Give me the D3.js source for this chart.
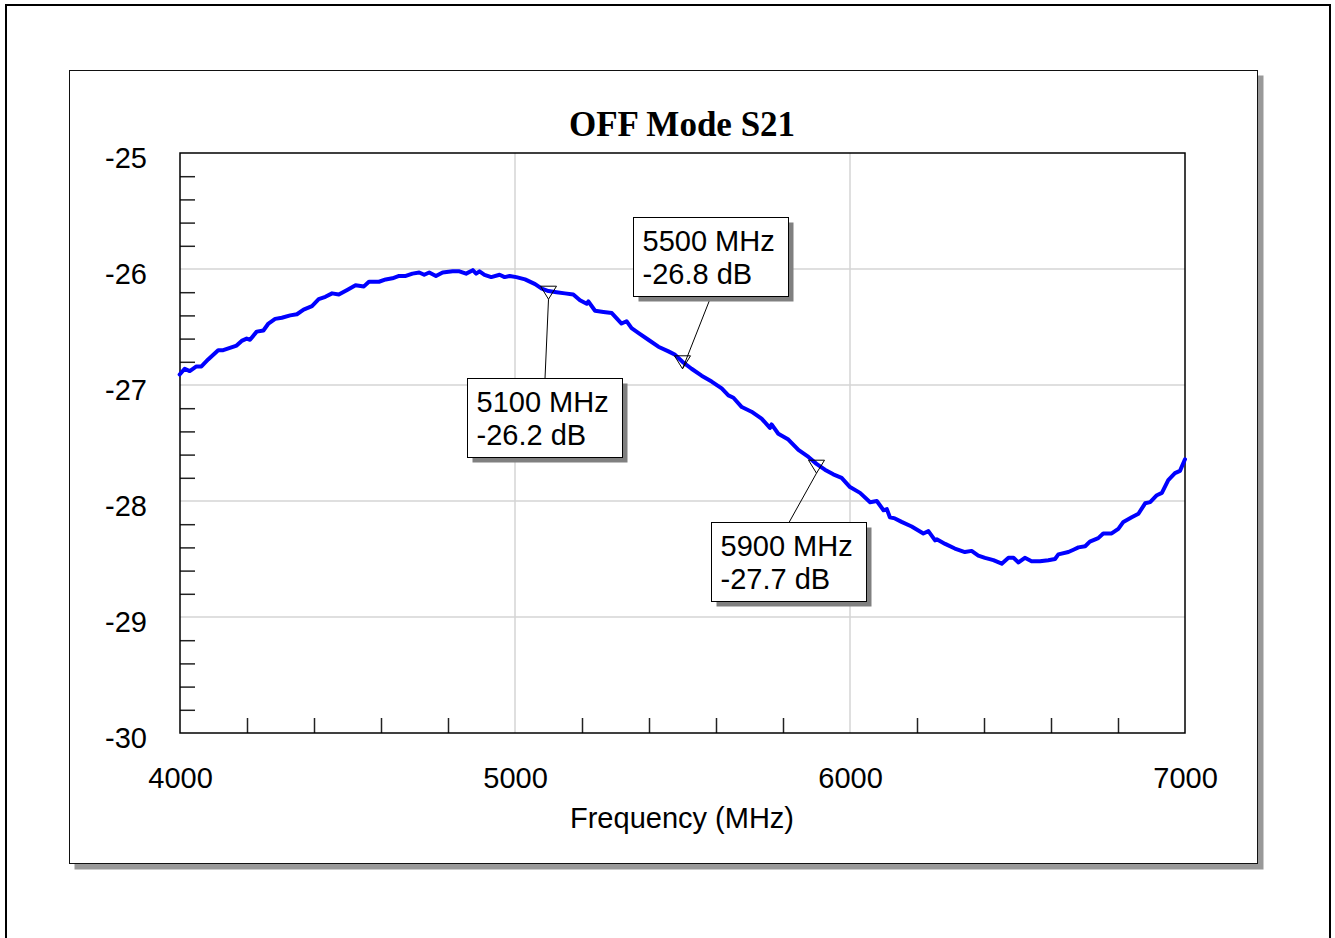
<!DOCTYPE html>
<html>
<head>
<meta charset="utf-8">
<script src="https://cdn.jsdelivr.net/npm/d3@7"></script>
<style>
  html, body { margin: 0; padding: 0; background: #fff; }
  svg { display: block; }
</style>
</head>
<body>
<svg id="chart" width="1335" height="938"></svg>
<script>
// Measured S21 trace (MHz, dB)
const freqs = [
  3999, 4014, 4029, 4049, 4064, 4084, 4114, 4129, 4149, 4169, 4184, 4199, 4209, 4229, 4249,
  4264, 4284, 4304, 4329, 4349, 4369, 4394, 4414, 4434, 4454, 4474, 4499, 4524, 4549, 4564,
  4594, 4614, 4634, 4654, 4674, 4694, 4714, 4729, 4744, 4764, 4784, 4814, 4834, 4854, 4874,
  4884, 4894, 4909, 4929, 4954, 4969, 4984, 5004, 5030, 5060, 5080, 5100, 5124, 5149, 5174,
  5194, 5214, 5219, 5239, 5264, 5289, 5318, 5333, 5348, 5368, 5398, 5428, 5458, 5478, 5500,
  5527, 5557, 5587, 5617, 5637, 5652, 5677, 5706, 5736, 5761, 5766, 5786, 5816, 5846, 5876,
  5900, 5925, 5950, 5975, 6000, 6030, 6060, 6080, 6100, 6110, 6119, 6134, 6154, 6184, 6219,
  6234, 6254, 6259, 6284, 6313, 6343, 6363, 6383, 6403, 6428, 6453, 6473, 6488, 6503, 6522,
  6542, 6567, 6592, 6612, 6622, 6652, 6667, 6682, 6702, 6716, 6741, 6756, 6781, 6801, 6816,
  6841, 6861, 6881, 6896, 6916, 6931, 6950, 6970, 6985, 7000
];
const s21 = [
  -26.91, -26.86, -26.88, -26.84, -26.84, -26.78, -26.70, -26.70, -26.68, -26.66, -26.62, -26.60, -26.61, -26.54, -26.53,
  -26.47, -26.43, -26.42, -26.40, -26.39, -26.35, -26.32, -26.26, -26.24, -26.21, -26.22, -26.18, -26.14, -26.15, -26.11,
  -26.11, -26.09, -26.08, -26.06, -26.06, -26.04, -26.03, -26.05, -26.03, -26.06, -26.03, -26.02, -26.02, -26.04, -26.01,
  -26.04, -26.02, -26.05, -26.07, -26.05, -26.07, -26.06, -26.07, -26.09, -26.13, -26.17, -26.19, -26.20, -26.21, -26.22,
  -26.27, -26.30, -26.28, -26.36, -26.37, -26.38, -26.47, -26.45, -26.51, -26.55, -26.61, -26.67, -26.71, -26.74, -26.80,
  -26.86, -26.92, -26.97, -27.03, -27.09, -27.11, -27.19, -27.23, -27.29, -27.37, -27.34, -27.42, -27.47, -27.56, -27.62,
  -27.68, -27.73, -27.77, -27.80, -27.88, -27.93, -28.01, -28.00, -28.08, -28.07, -28.14, -28.15, -28.18, -28.22, -28.28,
  -28.26, -28.34, -28.33, -28.37, -28.41, -28.44, -28.43, -28.47, -28.49, -28.51, -28.54, -28.49, -28.49, -28.53, -28.49,
  -28.52, -28.52, -28.51, -28.50, -28.46, -28.44, -28.42, -28.40, -28.39, -28.35, -28.32, -28.28, -28.28, -28.24, -28.18,
  -28.14, -28.11, -28.02, -28.01, -27.95, -27.93, -27.82, -27.76, -27.74, -27.64
];

// Markers
const markerFreqs = [5100, 5500, 5900];
const markerVals = [-26.2, -26.8, -27.7];

// Axis ticks
const xTickValues = [4000, 5000, 6000, 7000];
const yTickValues = [-30, -29, -28, -27, -26, -25];
const titleText = "OFF Mode S21";
const xAxisTitle = "Frequency (MHz)";

const svg = d3.select("#chart");
const SANS = "'Liberation Sans', Arial, sans-serif";
const SERIF = "'Liberation Serif', 'Times New Roman', serif";

// Outer page frame
svg.append("rect").attr("x", 6).attr("y", 5).attr("width", 1324).attr("height", 960)
  .attr("fill", "none").attr("stroke", "#000").attr("stroke-width", 2);

// Chart panel with drop shadow
const panel = { x: 69.5, y: 70.5, w: 1188, h: 793 };
svg.append("rect").attr("x", panel.x + 5).attr("y", panel.y + 5)
  .attr("width", panel.w + 1).attr("height", panel.h + 1).attr("fill", "#999");
svg.append("rect").attr("x", panel.x).attr("y", panel.y)
  .attr("width", panel.w).attr("height", panel.h)
  .attr("fill", "#fff").attr("stroke", "#111").attr("stroke-width", 1);

// Plot area
const plot = { left: 180, top: 153, right: 1185, bottom: 733 };
const x = d3.scaleLinear().domain([4000, 7000]).range([plot.left, plot.right]);
const y = d3.scaleLinear().domain([-30, -25]).range([plot.bottom, plot.top]);

// Grid lines
const g = svg.append("g");
g.selectAll("line.gy").data(yTickValues.filter(v => v > -30 && v < -25)).join("line")
  .attr("x1", plot.left).attr("x2", plot.right)
  .attr("y1", d => y(d)).attr("y2", d => y(d))
  .attr("stroke", "#d4d4d4").attr("stroke-width", 1.5);
g.selectAll("line.gx").data(xTickValues.filter(v => v > 4000 && v < 7000)).join("line")
  .attr("y1", plot.top).attr("y2", plot.bottom)
  .attr("x1", d => x(d)).attr("x2", d => x(d))
  .attr("stroke", "#d4d4d4").attr("stroke-width", 1.5);

// Minor ticks (inside the plot)
const yMinor = d3.range(-29.8, -25.0, 0.2).map(v => +v.toFixed(1)).filter(v => Math.abs(v - Math.round(v)) > 1e-6);
const xMinor = d3.range(4200, 7000, 200).filter(v => v % 1000 !== 0);
const yAxisMinor = d3.axisLeft(y).tickValues(yMinor).tickSize(-15).tickFormat("");
const xAxisMinor = d3.axisBottom(x).tickValues(xMinor).tickSize(-15).tickFormat("");
const ya = svg.append("g").attr("transform", `translate(${plot.left},0)`).call(yAxisMinor);
const xa = svg.append("g").attr("transform", `translate(0,${plot.bottom})`).call(xAxisMinor);
[ya, xa].forEach(a => {
  a.select(".domain").remove();
  a.selectAll(".tick line").attr("stroke", "#222").attr("stroke-width", 1.5);
});

// Tick labels (plain hyphen minus sign)
const plain = d => String(d);
const yLab = d3.axisLeft(y).tickValues(yTickValues).tickSize(0).tickPadding(33).tickFormat(plain);
const xLab = d3.axisBottom(x).tickValues(xTickValues).tickSize(0).tickPadding(33).tickFormat(plain);
const yl = svg.append("g").attr("transform", `translate(${plot.left},0)`).call(yLab);
const xl = svg.append("g").attr("transform", `translate(0,${plot.bottom})`).call(xLab);
[yl, xl].forEach(a => {
  a.select(".domain").remove();
  a.selectAll("text").attr("font-family", SANS).attr("font-size", 29).attr("fill", "#000");
});
yl.selectAll("text").attr("dy", "0.5em");
xl.selectAll("text").attr("dy", "0.77em");

// Plot frame
svg.append("rect").attr("x", plot.left).attr("y", plot.top)
  .attr("width", plot.right - plot.left).attr("height", plot.bottom - plot.top)
  .attr("fill", "none").attr("stroke", "#000").attr("stroke-width", 1.5);

// Trace
const line = d3.line().x((d, i) => x(freqs[i])).y(d => y(d)).curve(d3.curveLinear);
svg.append("path").datum(s21).attr("d", line)
  .attr("fill", "none").attr("stroke", "#0000ff").attr("stroke-width", 4)
  .attr("stroke-linejoin", "round").attr("stroke-linecap", "round");

// Title and axis title
svg.append("text").attr("x", 682).attr("y", 136).attr("text-anchor", "middle")
  .attr("font-family", SERIF).attr("font-weight", "bold").attr("font-size", 35)
  .text(titleText);
svg.append("text").attr("x", 682).attr("y", 828).attr("text-anchor", "middle")
  .attr("font-family", SANS).attr("font-size", 29).text(xAxisTitle);

// Marker annotations: box offset relative to the marked point, leader attaches at top or bottom edge
const boxOffsets = [
  { dx: -82, dy: 86, edge: "top" },
  { dx: -49.5, dy: -145, edge: "bottom" },
  { dx: -105.5, dy: 56, edge: "top" }
];
const boxW = 155, boxH = 79;
const mg = svg.append("g");
markerFreqs.forEach((f, i) => {
  const px = x(f), py = y(markerVals[i]);
  const o = boxOffsets[i];
  const bx = Math.round(px + o.dx) + 0.5, by = Math.round(py + o.dy) + 0.5;
  const ax = bx + boxW / 2, ay = o.edge === "top" ? by : by + boxH;
  // leader
  mg.append("line").attr("x1", ax).attr("y1", ay).attr("x2", px).attr("y2", py + 7)
    .attr("stroke", "#000").attr("stroke-width", 1);
  // triangle marker
  mg.append("path")
    .attr("d", `M${px - 8},${py - 6} L${px + 8},${py - 6} L${px},${py + 7} Z`)
    .attr("fill", "none").attr("stroke", "#000").attr("stroke-width", 1);
  // label box with shadow
  mg.append("rect").attr("x", bx + 5).attr("y", by + 5).attr("width", boxW).attr("height", boxH)
    .attr("fill", "#808080");
  mg.append("rect").attr("x", bx).attr("y", by).attr("width", boxW).attr("height", boxH)
    .attr("fill", "#fff").attr("stroke", "#000").attr("stroke-width", 1);
  const t = mg.append("text").attr("font-family", SANS).attr("font-size", 29).attr("fill", "#000");
  t.append("tspan").attr("x", bx + 9).attr("y", by + 33).text(`${f} MHz`);
  t.append("tspan").attr("x", bx + 9).attr("y", by + 66).text(`${markerVals[i].toFixed(1)} dB`);
});
</script>
</body>
</html>
